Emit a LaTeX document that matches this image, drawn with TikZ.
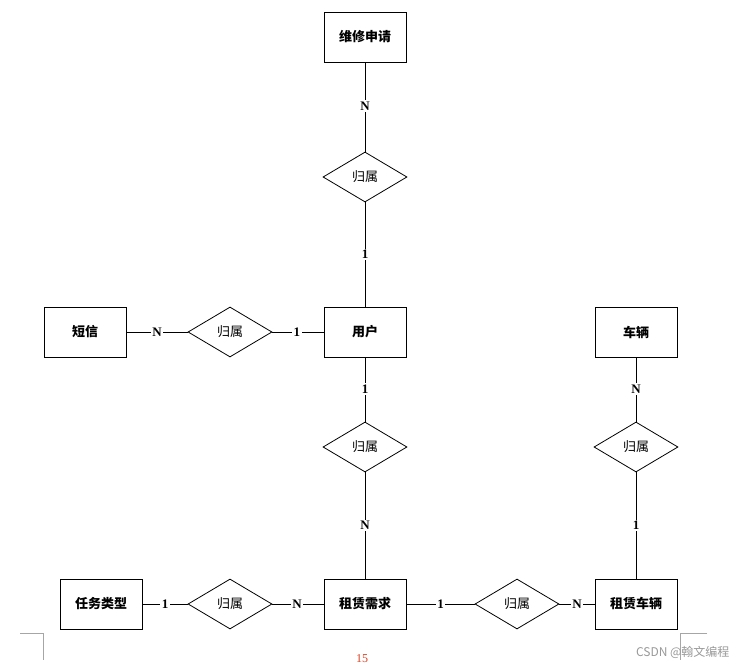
\documentclass[tikz,border=0pt]{standalone}
\usepackage{fontspec}
\setmainfont{Liberation Serif}
\newfontfamily\cjk{Noto Sans CJK SC}
\usetikzlibrary{shapes.geometric}
\begin{document}
\begin{tikzpicture}[x=1pt,y=-1pt,
  ent/.style={draw,line width=0.9pt,minimum width=82pt,minimum height=50pt,inner sep=0pt,font=\cjk\bfseries\fontsize{13}{13}\selectfont},
  rel/.style={draw,line width=0.8pt,diamond,aspect=1.68,minimum width=84pt,minimum height=50pt,inner sep=0pt,font=\cjk\fontsize{13}{13}\selectfont},
  card/.style={fill=white,inner sep=1.5pt,font=\bfseries\fontsize{13}{13}\selectfont},
  conn/.style={line width=0.9pt},
  pagemark/.style={draw=gray!70,line width=0.6pt}]
\fill[white] (0,0) rectangle (741,666);
\useasboundingbox (0,0) rectangle (741,666);
% entities
\node[ent] (repair) at (365,37) {维修申请};
\node[ent] (user) at (365,332) {用户};
\node[ent] (sms) at (85,332) {短信};
\node[ent] (car) at (636,332) {车辆};
\node[ent] (task) at (101,604) {任务类型};
\node[ent] (demand) at (365,604) {租赁需求};
\node[ent] (rentcar) at (636,604) {租赁车辆};
% relations
\node[rel] (r1) at (365,177) {归属};
\node[rel] (r2) at (230,332) {归属};
\node[rel] (r3) at (365,447) {归属};
\node[rel] (r4) at (636,447) {归属};
\node[rel] (r5) at (230,604) {归属};
\node[rel] (r6) at (517,604) {归属};
% connectors
\draw[conn] (repair) -- (r1) node[card,pos=0.49] {N};
\draw[conn] (r1) -- (user) node[card,pos=0.5] {1};
\draw[conn] (sms) -- (r2) node[card,pos=0.5] {N};
\draw[conn] (r2) -- (user) node[card,pos=0.48] {1};
\draw[conn] (user) -- (r3) node[card,pos=0.49] {1};
\draw[conn] (r3) -- (demand) node[card,pos=0.5] {N};
\draw[conn] (car) -- (r4) node[card,pos=0.49] {N};
\draw[conn] (r4) -- (rentcar) node[card,pos=0.5] {1};
\draw[conn] (task) -- (r5) node[card,pos=0.5] {1};
\draw[conn] (r5) -- (demand) node[card,pos=0.48] {N};
\draw[conn] (demand) -- (r6) node[card,pos=0.5] {1};
\draw[conn] (r6) -- (rentcar) node[card,pos=0.5] {N};
% page marks
\coordinate (bl1) at (20,633); \coordinate (bl2) at (43,633); \coordinate (bl3) at (43,660);
\draw[pagemark] (bl1) -- (bl2) -- (bl3);
\coordinate (br1) at (707,633); \coordinate (br2) at (680,633); \coordinate (br3) at (680,660);
\draw[pagemark] (br1) -- (br2) -- (br3);
\node[text=red!50!brown,font=\fontsize{12}{12}\selectfont] (page) at (362,659) {15};
\node[text=gray!80,anchor=east,font=\cjk\fontsize{12}{12}\selectfont] (wm) at (733,652) {CSDN @翰文编程};
\end{tikzpicture}
\end{document}
